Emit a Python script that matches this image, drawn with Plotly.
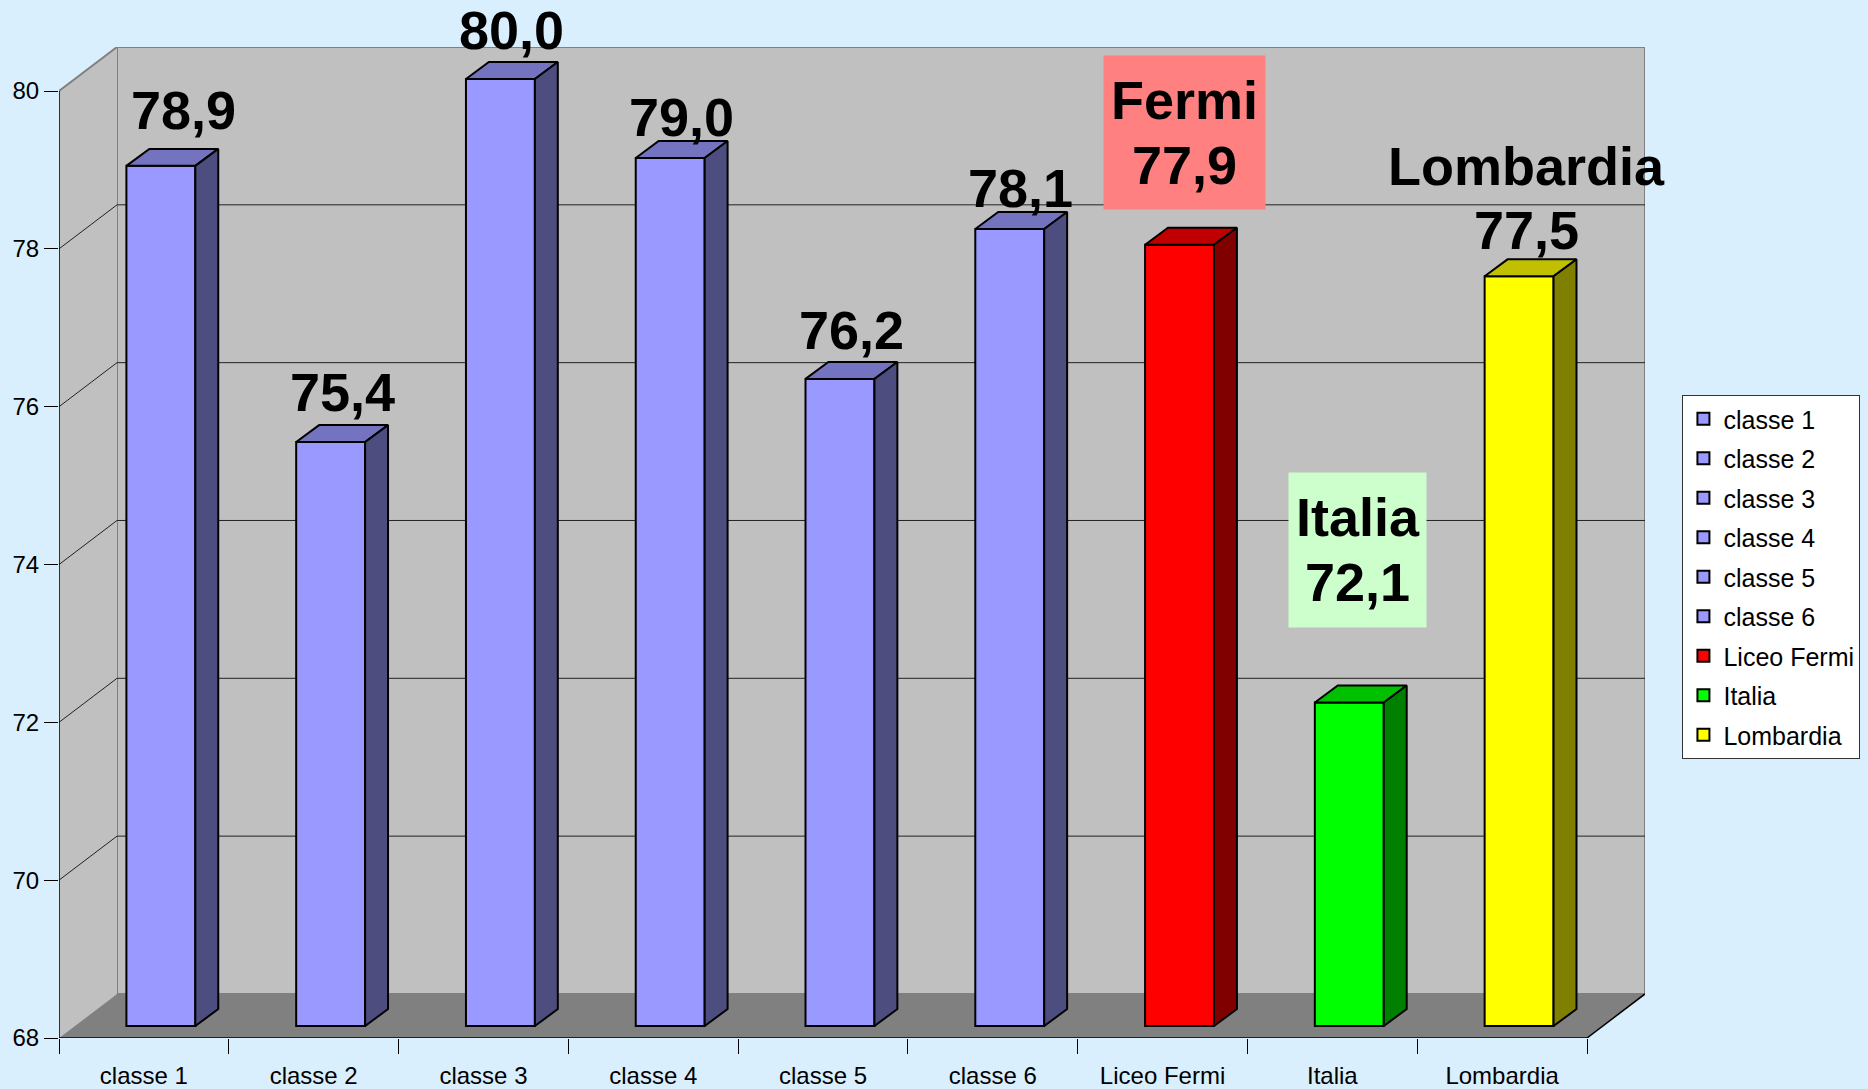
import plotly.graph_objects as go

# ---------------- data ----------------
categories = ["classe 1", "classe 2", "classe 3", "classe 4", "classe 5", "classe 6",
              "Liceo Fermi", "Italia", "Lombardia"]
values = [78.9, 75.4, 80.0, 79.0, 76.2, 78.1, 77.9, 72.1, 77.5]
front_colors = ["#9999FF"] * 6 + ["#FF0000", "#00FF00", "#FFFF00"]
top_colors = ["#7373BF"] * 6 + ["#C00000", "#00C000", "#C0C000"]
side_colors = ["#4D4D80"] * 6 + ["#800000", "#008000", "#808000"]
label_names = ["", "", "", "", "", "", "Fermi", "Italia", "Lombardia"]
label_bgs = [None] * 6 + ["#FF8080", "#CCFFCC", None]
y_tickvals = [68, 70, 72, 74, 76, 78, 80]

# ---------------- style / geometry ----------------
FONT = "Arial, Liberation Sans, sans-serif"
BG = "#DAEFFD"
Y0, Y1 = 68, 80
N = len(categories)
DX, DY = 0.3416, 0.558          # depth of the 3D box (data units)
BW, FX, FY = 0.406, 0.10, 0.152  # bar front width and front-plane offset
BX, BY = 0.135, 0.215           # bar depth
label_xshift = [11, 0, 0, 0, 0, -1, -7, -3, -4]
value_yshift = [39, 32.6, 32, 24.3, 31.7, 23.7, 63, 103, 29.4]
name_yshift = [None] * 6 + [128, 168.8, 93.6]
box_yshift = [None] * 6 + [95.3, 135.5, None]
box_w = [None] * 6 + [161, 137, None]
box_h = [None] * 6 + [153, 154, None]

fig = go.Figure()

shapes = []
# back wall
shapes.append(dict(type="rect", xref="x", yref="y", x0=DX, x1=N + DX, y0=Y0 + DY, y1=Y1 + DY,
                   fillcolor="#C0C0C0", line=dict(color="#808080", width=2), layer="below"))
# left wall
shapes.append(dict(type="path", xref="x", yref="y",
                   path=f"M0,{Y0} L{DX},{Y0 + DY} L{DX},{Y1 + DY} L0,{Y1} Z",
                   fillcolor="#C0C0C0", line=dict(width=0), layer="below"))
# floor
shapes.append(dict(type="path", xref="x", yref="y",
                   path=f"M0,{Y0} L{N},{Y0} L{N + DX},{Y0 + DY} L{DX},{Y0 + DY} Z",
                   fillcolor="#808080", line=dict(width=0), layer="below"))
# gridlines
for v in y_tickvals[1:-1]:
    shapes.append(dict(type="line", xref="x", yref="y", x0=DX, x1=N + DX, y0=v + DY, y1=v + DY,
                       line=dict(color="#222222", width=1), layer="below"))
    shapes.append(dict(type="line", xref="x", yref="y", x0=0, x1=DX, y0=v, y1=v + DY,
                       line=dict(color="#222222", width=1), layer="below"))
# left wall top edge
shapes.append(dict(type="line", xref="x", yref="y", x0=0, x1=DX, y0=Y1, y1=Y1 + DY,
                   line=dict(color="#808080", width=2), layer="below"))
# front axes
shapes.append(dict(type="line", xref="x", yref="y", x0=0, x1=0, y0=Y0, y1=Y1,
                   line=dict(color="black", width=1.5)))
shapes.append(dict(type="line", xref="x", yref="y", x0=0, x1=N, y0=Y0, y1=Y0,
                   line=dict(color="black", width=1.5)))
shapes.append(dict(type="line", xref="x", yref="y", x0=N, x1=N + DX, y0=Y0, y1=Y0 + DY,
                   line=dict(color="black", width=1.5)))

annotations = []
label_font = dict(family=FONT, size=54, color="black", weight="bold")
for i, (cat, v) in enumerate(zip(categories, values)):
    cx = i + 0.5 + FX
    x0, x1 = cx - BW / 2, cx + BW / 2
    base = Y0 + FY
    top = v + FY
    fig.add_trace(go.Bar(x=[cx], y=[v - Y0], base=[base], width=[BW], name=cat,
                         legendgroup=cat,
                         marker=dict(color=front_colors[i], line=dict(color="black", width=2)),
                         hoverinfo="skip"))
    fig.add_trace(go.Scatter(x=[x0, x1, x1 + BX, x0 + BX, x0],
                             y=[top, top, top + BY, top + BY, top],
                             fill="toself", fillcolor=top_colors[i], mode="lines",
                             line=dict(color="black", width=2), showlegend=False,
                             hoverinfo="skip", legendgroup=cat))
    fig.add_trace(go.Scatter(x=[x1, x1 + BX, x1 + BX, x1, x1],
                             y=[base, base + BY, top + BY, top, base],
                             fill="toself", fillcolor=side_colors[i], mode="lines",
                             line=dict(color="black", width=2), showlegend=False,
                             hoverinfo="skip", legendgroup=cat))
    ax, ay = cx + BX / 2, v + FY + BY  # centre of the bar's top face (back edge)
    common = dict(x=ax, y=ay, xref="x", yref="y", showarrow=False,
                  xanchor="center", yanchor="middle", xshift=label_xshift[i])
    if label_bgs[i]:
        annotations.append(dict(**common, text=" ", yshift=box_yshift[i],
                                bgcolor=label_bgs[i], borderpad=0,
                                width=box_w[i], height=box_h[i]))
    if label_names[i]:
        annotations.append(dict(**common, text=label_names[i], yshift=name_yshift[i],
                                font=label_font))
    lab = f"{v:.1f}".replace(".", ",")
    annotations.append(dict(**common, text=lab, yshift=value_yshift[i], font=label_font))

fig.update_layout(
    width=1868, height=1089,
    margin=dict(l=59, r=223, t=47, b=51, autoexpand=False),
    paper_bgcolor=BG, plot_bgcolor=BG,
    barmode="overlay",
    shapes=shapes, annotations=annotations,
    font=dict(family=FONT, color="black"),
    xaxis=dict(range=[0, N + DX], showgrid=False, zeroline=False, showline=False,
               tickvals=[i + 0.5 for i in range(N)], ticktext=categories,
               ticks="outside", ticklen=16, tickcolor="rgba(0,0,0,0)",
               tickfont=dict(size=24, family=FONT, color="black"),
               minor=dict(tickvals=list(range(N + 1)), ticks="outside", ticklen=15,
                          tickcolor="black", tickwidth=1, showgrid=False)),
    yaxis=dict(range=[Y0, Y1 + DY], showgrid=False, zeroline=False, showline=False,
               tickvals=y_tickvals, ticks="outside", ticklen=14, tickcolor="black",
               tickwidth=1, tickfont=dict(size=24, family=FONT, color="black")),
    legend=dict(x=1.0236, y=0.6488, xanchor="left", yanchor="top",
                bgcolor="white", bordercolor="#333333", borderwidth=1,
                font=dict(size=25, family=FONT, color="black"),
                tracegroupgap=4, traceorder="grouped"),
)

fig.write_html("out.html", config={"displayModeBar": False},
               post_script="document.body.style.margin='0';")
